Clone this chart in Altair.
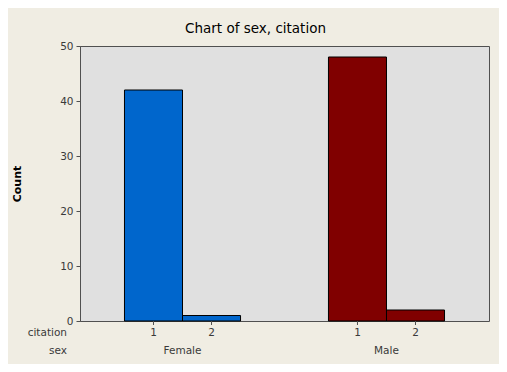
import altair as alt
import pandas as pd

sex = ["Female", "Female", "Male", "Male"]
citation = ["1", "2", "1", "2"]
count = [42, 1, 48, 2]
sex_levels = ["Female", "Male"]
bar_colors = ["#0066CC", "#800000"]
y_ticks = [0, 10, 20, 30, 40, 50]

df = pd.DataFrame({"sex": sex, "citation": citation, "count": count})

FONT = "DejaVu Sans"
W, H = 409, 275

x_scale = alt.Scale(domain=sex_levels, paddingInner=0.431, paddingOuter=0.218)
x_enc = alt.X(
    "sex:N",
    scale=x_scale,
    axis=alt.Axis(title=None, labelAngle=0, ticks=False, tickSize=0, domain=False,
                  labelPadding=24, labelFont=FONT, labelFontSize=10.5, labelColor="#3a3a3a"),
)
xo_enc = alt.XOffset("citation:N", scale=alt.Scale(paddingInner=0, paddingOuter=0))

bars = alt.Chart(df).mark_bar(stroke="#000000", strokeWidth=1).encode(
    x=x_enc,
    xOffset=xo_enc,
    y=alt.Y("count:Q", scale=alt.Scale(domain=[0, 50], nice=False),
            axis=alt.Axis(values=y_ticks, title="Count", titleFont=FONT, titleFontSize=11,
                          titleFontWeight="bold", titleColor="#000000", titleX=-58, titleY=H / 2,
                          labelFont=FONT, labelFontSize=10.5, labelColor="#3a3a3a",
                          tickSize=4, tickColor="#505050", domainColor="#505050",
                          labelPadding=3, grid=False)),
    color=alt.Color("sex:N", scale=alt.Scale(domain=sex_levels, range=bar_colors), legend=None),
)

ticks = alt.Chart(df).mark_rule(color="#505050").encode(
    x=alt.X("sex:N", scale=x_scale),
    xOffset=xo_enc,
    y=alt.value(H),
    y2=alt.value(H + 4),
)

cit_labels = alt.Chart(df).mark_text(font=FONT, fontSize=10.5, color="#3a3a3a", baseline="middle").encode(
    x=alt.X("sex:N", scale=x_scale),
    xOffset=xo_enc,
    y=alt.value(H + 12),
    text="citation:N",
)

row1 = alt.Chart(pd.DataFrame({"label": ["citation"]})).mark_text(
    font=FONT, fontSize=10.5, color="#3a3a3a", align="right", baseline="middle"
).encode(x=alt.value(-13), y=alt.value(H + 12), text="label:N")

row2 = alt.Chart(pd.DataFrame({"label": ["sex"]})).mark_text(
    font=FONT, fontSize=10.5, color="#3a3a3a", align="right", baseline="middle"
).encode(x=alt.value(-13), y=alt.value(H + 30), text="label:N")

chart = alt.layer(bars, ticks, cit_labels, row1, row2).properties(
    width=W,
    height=H,
    title=alt.TitleParams("Chart of sex, citation", font=FONT, fontSize=13.5, fontWeight="normal",
                          color="#000000", anchor="middle", offset=6, dx=-29),
    background="#F0EDE3",
    padding={"left": 72, "top": 38, "right": 10, "bottom": 43},
    autosize=alt.AutoSizeParams(type="none"),
).configure_view(fill="#E0E0E0", stroke="#505050", strokeWidth=1)

chart.save("out.html", embed_options={"renderer": "svg", "actions": False})
